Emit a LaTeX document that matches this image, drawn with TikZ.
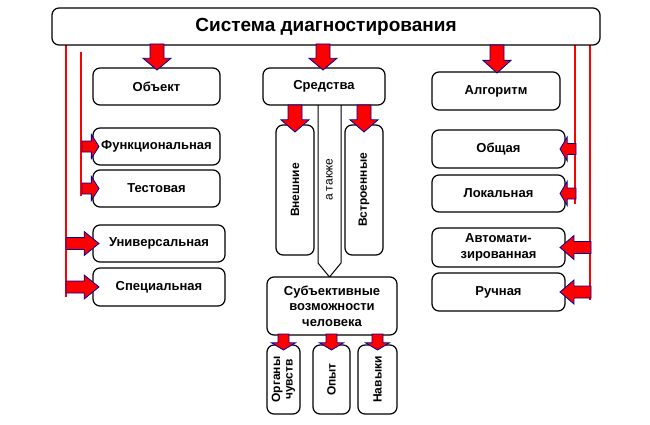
\documentclass[tikz,border=0pt]{standalone}
\usepackage{fontspec}
\setmainfont{Liberation Sans}
\begin{document}
\begin{tikzpicture}[x=1pt,y=-1pt,
 box/.style={draw,line width=1.2pt,rounded corners=7pt,fill=white,font=\bfseries\fontsize{13}{15.5}\selectfont,align=center,inner sep=0pt},
 fa/.style={fill=red,draw=blue!60!black,line width=0.8pt,line join=miter},
 ln/.style={draw=blue!60!black,double=red,double distance=1.6pt,line width=0.6pt}]
\useasboundingbox (0,0) rectangle (650,425);
\newcommand\bx[6]{\node[box,minimum width=#4-#2,minimum height=#5-#3] (#1) at ({(#2+#4)/2},{(#3+#5)/2}) {#6};}
% tip x, tip y, angle, length, shaft half, head half
\newcommand\farr[6]{\draw[fa,shift={(#1,#2)},rotate=#3] (0,0)--(-0.45*#4,#6)--(-0.45*#4,#5)--(-#4,#5)--(-#4,-#5)--(-0.45*#4,-#5)--(-0.45*#4,-#6)--cycle;}
% lines
\coordinate (l1a) at (66,45); \coordinate (l1b) at (66,297);
\coordinate (l2a) at (81,52); \coordinate (l2b) at (81,196);
\coordinate (r1a) at (575,45); \coordinate (r1b) at (575,204);
\coordinate (r2a) at (590,45); \coordinate (r2b) at (590,300);
\path[ln] (l1a)--(l1b); \path[ln] (l2a)--(l2b); \path[ln] (r1a)--(r1b); \path[ln] (r2a)--(r2b);
% a takzhe arrow
\draw[line width=1pt,fill=white] (318,100)--(341,100)--(341,263)--(329.5,277)--(318,263)--cycle;
\node[rotate=90,font=\fontsize{12}{13}\selectfont] (at) at (329.5,180) {а также};
\node[box,font=\bfseries\fontsize{19}{22}\selectfont,minimum width=548pt,minimum height=37pt] (main) at (326,26.5) {Система диагностирования};
\bx{obj}{93}{68}{220}{105}{Объект}
\bx{fun}{93}{128}{220}{165}{Функциональная}
\bx{tes}{93}{170}{220}{207}{Тестовая}
\bx{uni}{93}{225}{225}{262}{Универсальная}
\bx{spe}{93}{268}{225}{306}{Специальная}
\bx{sre}{263}{68}{385}{105}{Средства}
\node[box,minimum height=38pt,minimum width=130pt,rotate=90,font=\bfseries\fontsize{12}{13}\selectfont] (vne) at (295,190) {Внешние};
\node[box,minimum height=38pt,minimum width=130pt,rotate=90,font=\bfseries\fontsize{12}{13}\selectfont] (vst) at (364,190) {Встроенные};
\bx{sub}{267}{277}{397}{335}{Субъективные\\возможности\\человека}
\node[box,minimum height=33pt,minimum width=69pt,rotate=90,font=\bfseries\fontsize{12}{12.5}\selectfont] (org) at (283.5,379.5) {Органы\\чувств};
\node[box,minimum height=37pt,minimum width=69pt,rotate=90,font=\bfseries\fontsize{12}{13}\selectfont] (opy) at (331.5,379.5) {Опыт};
\node[box,minimum height=39pt,minimum width=69pt,rotate=90,font=\bfseries\fontsize{12}{13}\selectfont] (nav) at (377.5,379.5) {Навыки};
\bx{alg}{432}{72}{560}{110}{Алгоритм}
\bx{obs}{432}{130}{565}{168}{Общая}
\bx{lok}{432}{175}{565}{212}{Локальная}
\bx{avt}{432}{228}{565}{267}{Автомати-\\зированная}
\bx{ruc}{432}{273}{565}{311}{Ручная}
% down arrows
\farr{157}{70}{270}{26}{7}{14}
\farr{323}{70}{270}{26}{7}{14}
\farr{497}{73}{270}{28}{7}{14}
\farr{295}{132}{270}{27}{7}{14}
\farr{364}{132}{270}{27}{7}{14}
\farr{283.5}{350}{270}{16}{5.5}{12}
\farr{331.5}{350}{270}{16}{5.5}{12}
\farr{377.5}{350}{270}{16}{5.5}{12}
% side arrows
\farr{99}{146.5}{0}{17}{5.5}{12}
\farr{99}{188.5}{0}{17}{5.5}{12}
\farr{99}{243.5}{0}{33}{6}{12}
\farr{99}{287}{0}{33}{6}{12}
\farr{560}{149}{180}{16}{5.5}{12}
\farr{560}{193.5}{180}{16}{5.5}{12}
\farr{560}{247.5}{180}{31}{6}{12}
\farr{560}{292}{180}{31}{6}{12}
\end{tikzpicture}
\end{document}
